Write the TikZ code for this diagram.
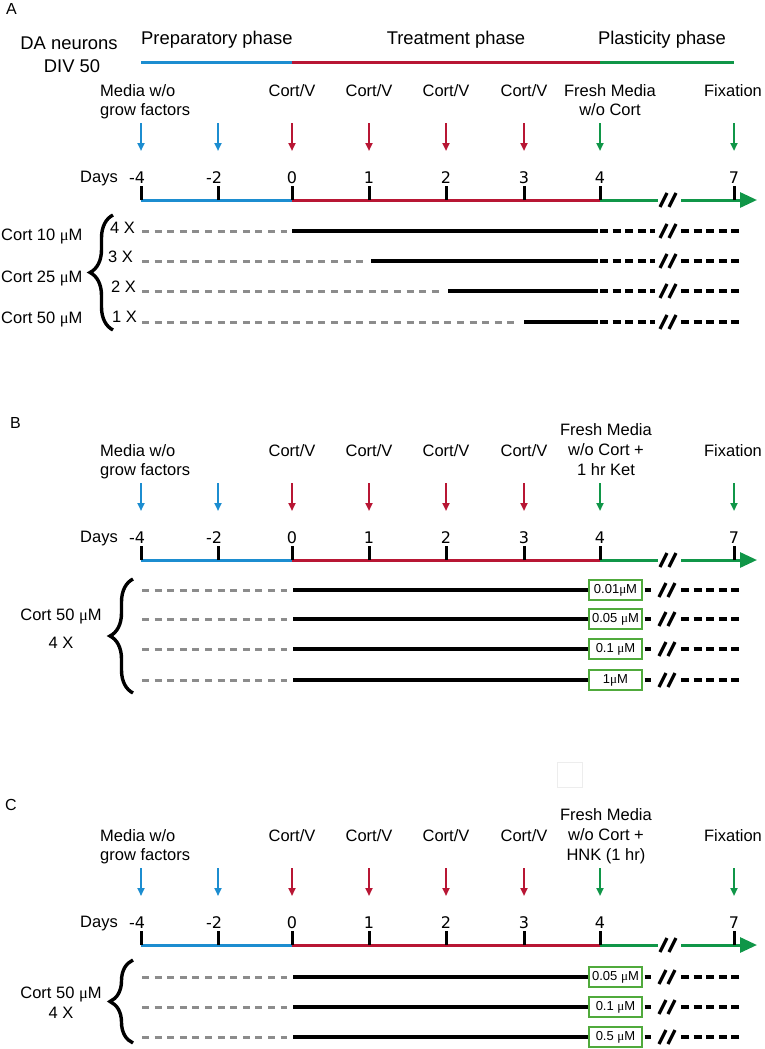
\documentclass[tikz,border=0pt]{standalone}
\usepackage{fontspec}
\setmainfont{Liberation Sans}
\newfontfamily\mufont{Liberation Serif}
\newfontfamily\numfont{DejaVu Sans}
\usetikzlibrary{arrows.meta,decorations.pathreplacing}
\definecolor{cblue}{RGB}{28,141,208}
\definecolor{cred}{RGB}{184,22,52}
\definecolor{cgreen}{RGB}{16,150,72}
\definecolor{cbox}{RGB}{80,170,60}
\definecolor{cgray}{RGB}{140,140,140}
\newcommand\mumark{{\mufont μ}}
\tikzset{
  lbl/.style={font=\fontsize{16.5}{19}\selectfont, inner sep=0pt, anchor=base},
  ttl/.style={font=\fontsize{18.4}{21}\selectfont, inner sep=0pt, anchor=base},
  letter/.style={font=\fontsize{16}{19}\selectfont, inner sep=0pt, anchor=base west},
  num/.style={font=\numfont\fontsize{16}{19}\selectfont, inner sep=0pt, anchor=base},
  dnarrow/.style={line width=2pt, -{Triangle[length=8pt,width=7pt]}},
  axisline/.style={line width=3pt},
  phaseline/.style={line width=3pt},
  tickline/.style={line width=3pt, black},
  grayrow/.style={line width=3pt, cgray, dash pattern=on 7pt off 5.6pt},
  blackrow/.style={line width=3.5pt, black},
  dashrow/.style={line width=3.3pt, black, dash pattern=on 8pt off 4.6pt},
  conc/.style={draw=cbox, line width=1.4pt, fill=white, minimum width=53pt, minimum height=20pt, inner sep=0pt, font=\fontsize{13}{15}\selectfont},
  bracedraw/.style={line width=3.4pt, decorate, decoration={brace, amplitude=23pt}},
  breakmark/.pic={\draw[line width=3.2pt, black] (-9,7) -- (-2,-7) (0,7) -- (7,-7);},
}
% common timeline, in panel coordinates
\newcommand\timeline[1]{%
  \foreach \nm/\xx in {m4/141,m2/218,d0/292,d1/369,d2/446,d3/524,d4/600,d7/734}{%
    \coordinate (#1\nm) at (\xx,200);
    \coordinate (#1t\nm) at (\xx,123);
    \coordinate (#1b\nm) at (\xx,151);
  }
  \draw[dnarrow,cblue] (#1tm4) -- (#1bm4);
  \draw[dnarrow,cblue] (#1tm2) -- (#1bm2);
  \foreach \nm in {d0,d1,d2,d3}{\draw[dnarrow,cred] (#1t\nm) -- (#1b\nm);}
  \draw[dnarrow,cgreen] (#1td4) -- (#1bd4);
  \draw[dnarrow,cgreen] (#1td7) -- (#1bd7);
  \node[lbl,anchor=base west] (#1media) at (100,96) {Media w/o};
  \node[lbl,anchor=base west] (#1grow) at (100,115) {grow factors};
  \foreach \nm/\xx in {d0/292,d1/369,d2/446,d3/524}{\node[lbl] (#1cv\nm) at (\xx,96) {Cort/V};}
  \node[lbl] (#1fix) at (733,96) {Fixation};
  \node[lbl,anchor=base west] (#1days) at (80,182) {Days};
  \foreach \nm/\xx/\lab in {m4/137/-4,m2/214/-2,d0/292/0,d1/369/1,d2/446/2,d3/524/3,d4/600/4,d7/734/7}{%
    \node[num] (#1n\nm) at (\xx,183) {\lab};}
  \coordinate (#1ba) at (658,200);
  \coordinate (#1bb) at (681,200);
  \coordinate (#1end) at (757,200);
  \draw[axisline,cblue] (#1m4) -- (#1d0);
  \draw[axisline,cred] (#1d0) -- (#1d4);
  \draw[axisline,cgreen] (#1d4) -- (#1ba);
  \draw[axisline,cgreen,-{Triangle[length=17pt,width=15pt]}] (#1bb) -- (#1end);
  \foreach \nm in {m4,m2,d0,d1,d2,d3,d4,d7}{\draw[tickline] (#1\nm) -- ++(0,-14);}
  \pic at (669,200) {breakmark};
}
% row of panel A: prefix, index, y, x where the black line starts
\newcommand\arow[4]{%
  \coordinate (#1g#2) at (142,#3);
  \coordinate (#1ge#2) at ({#4-5},#3);
  \coordinate (#1s#2) at (#4,#3);
  \coordinate (#1f#2) at (598,#3);
  \coordinate (#1h#2) at (600,#3);
  \coordinate (#1q#2) at (655,#3);
  \coordinate (#1r#2) at (681,#3);
  \coordinate (#1e#2) at (741,#3);
  \draw[grayrow] (#1g#2) -- (#1ge#2);
  \draw[blackrow] (#1s#2) -- (#1f#2);
  \draw[dashrow] (#1h#2) -- (#1q#2);
  \pic at (669,#3) {breakmark};
  \draw[dashrow] (#1r#2) -- (#1e#2);
}
% row with a concentration box: prefix, index, y, label
\newcommand\boxrow[4]{%
  \coordinate (#1g#2) at (142,#3);
  \coordinate (#1ge#2) at (287,#3);
  \coordinate (#1s#2) at (293,#3);
  \node[conc] (#1k#2) at (615.5,#3) {#4};
  \coordinate (#1q#2) at (651,#3);
  \coordinate (#1r#2) at (681,#3);
  \coordinate (#1e#2) at (741,#3);
  \draw[grayrow] (#1g#2) -- (#1ge#2);
  \draw[blackrow] (#1s#2) -- (#1k#2.west);
  \draw[dashrow,shorten <=2pt] (#1k#2.east) -- (#1q#2);
  \pic at (668,#3) {breakmark};
  \draw[dashrow] (#1r#2) -- (#1e#2);
}
\begin{document}
\begin{tikzpicture}[x=1pt,y=-1pt]
\useasboundingbox (0,0) rectangle (764,1049);
% panel letters
\node[letter] (LA) at (6,15) {A};
\node[letter] (LB) at (10,428) {B};
\node[letter] (LC) at (5,810) {C};
% faint square
\node[draw=gray!14, line width=1pt, minimum width=25pt, minimum height=25pt, inner sep=0pt] (sq) at (569.5,774.5) {};

% ---------------- Panel A
\begin{scope}
  \node[ttl] (Ada) at (69,49) {DA neurons};
  \node[ttl] (Adiv) at (72,72) {DIV 50};
  \node[ttl,anchor=base west] (Aprep) at (141,45) {Preparatory phase};
  \node[ttl] (Atreat) at (456,45) {Treatment phase};
  \node[ttl] (Aplast) at (662,45) {Plasticity phase};
  \coordinate (Ap1) at (141,63);
  \coordinate (Ap2) at (292,63);
  \coordinate (Ap3) at (600,63);
  \coordinate (Ap4) at (734,63);
  \draw[phaseline,cblue] (Ap1) -- (Ap2);
  \draw[phaseline,cred] (Ap2) -- (Ap3);
  \draw[phaseline,cgreen] (Ap3) -- (Ap4);
  \timeline{A}
  \node[lbl] (Afresh1) at (610,96) {Fresh Media};
  \node[lbl] (Afresh2) at (610,115) {w/o Cort};
  \arow{A}{1}{231}{292}
  \arow{A}{2}{261}{371}
  \arow{A}{3}{291}{448}
  \arow{A}{4}{322}{524}
  \coordinate (Abt) at (113,215);
  \coordinate (Abb) at (113,330);
  \draw[bracedraw] (Abb) -- (Abt);
  \node[lbl,anchor=base west] (Ac10) at (1,240) {Cort 10 \mumark M};
  \node[lbl,anchor=base west] (Ac25) at (1,282) {Cort 25 \mumark M};
  \node[lbl,anchor=base west] (Ac50) at (1,323) {Cort 50 \mumark M};
  \node[lbl,anchor=base west] (Ax4) at (110,233) {4 X};
  \node[lbl,anchor=base west] (Ax3) at (108,262) {3 X};
  \node[lbl,anchor=base west] (Ax2) at (111,292) {2 X};
  \node[lbl,anchor=base west] (Ax1) at (112,322) {1 X};
\end{scope}

% ---------------- Panel B
\begin{scope}[shift={(0,360)}]
  \timeline{B}
  \node[lbl] (Bfresh1) at (606,75) {Fresh Media};
  \node[lbl] (Bfresh2) at (606,95) {w/o Cort +};
  \node[lbl] (Bfresh3) at (606,115) {1 hr Ket};
  \boxrow{B}{1}{230}{0.01\mumark M}
  \boxrow{B}{2}{259}{0.05 \mumark M}
  \boxrow{B}{3}{289}{0.1 \mumark M}
  \boxrow{B}{4}{320}{1\mumark M}
  \coordinate (Bbt) at (133,219);
  \coordinate (Bbb) at (133,333);
  \draw[bracedraw] (Bbb) -- (Bbt);
  \node[lbl] (Bc50) at (61,260) {Cort 50 \mumark M};
  \node[lbl] (Bx4) at (61,288) {4 X};
\end{scope}

% ---------------- Panel C
\begin{scope}[shift={(0,745)}]
  \timeline{C}
  \node[lbl] (Cfresh1) at (606,75) {Fresh Media};
  \node[lbl] (Cfresh2) at (606,95) {w/o Cort +};
  \node[lbl] (Cfresh3) at (606,115) {HNK (1 hr)};
  \boxrow{C}{1}{232}{0.05 \mumark M}
  \boxrow{C}{2}{262}{0.1 \mumark M}
  \boxrow{C}{3}{292}{0.5 \mumark M}
  \coordinate (Cbt) at (133,215);
  \coordinate (Cbb) at (133,298);
  \draw[bracedraw] (Cbb) -- (Cbt);
  \node[lbl] (Cc50) at (61,253) {Cort 50 \mumark M};
  \node[lbl] (Cx4) at (61,273) {4 X};
\end{scope}
\end{tikzpicture}
\end{document}
